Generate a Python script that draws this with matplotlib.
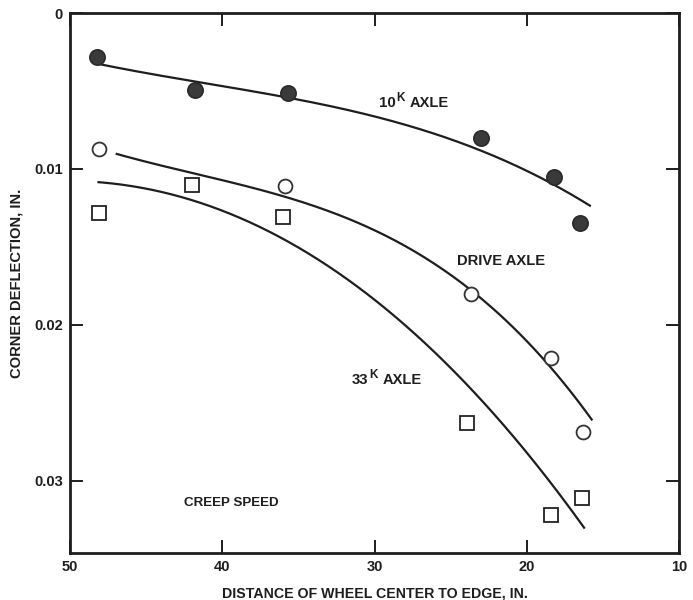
import numpy as np
import matplotlib
matplotlib.use("Agg")
import matplotlib.pyplot as plt

plt.rcParams['font.family'] = ['Liberation Sans', 'DejaVu Sans']
plt.rcParams['font.weight'] = 'bold'

# Measured deflections
dist_10k = [48.2, 41.8, 35.7, 23.0, 18.25, 16.5]
defl_10k = [0.0028, 0.0049, 0.0051, 0.0080, 0.0105, 0.01345]

dist_drive = [48.1, 35.9, 23.7, 18.4, 16.3]
defl_drive = [0.0087, 0.0111, 0.0180, 0.0221, 0.0269]

dist_33k = [48.1, 42.0, 36.0, 23.95, 18.4, 16.35]
defl_33k = [0.0128, 0.0110, 0.0131, 0.0263, 0.0322, 0.0311]

# Points along the drawn trend curves
curve_x_10k = [48.2, 41.9, 35.7, 29.0, 23.1, 18.3, 15.8]
curve_y_10k = [0.00326, 0.00432, 0.00544, 0.00692, 0.00878, 0.0109, 0.01244]

curve_x_drive = [47.0, 35.9, 31.0, 28.9, 24.1, 18.5, 15.7]
curve_y_drive = [0.00904, 0.0116, 0.0136, 0.01456, 0.01757, 0.02226, 0.02637]

curve_x_33k = [48.2, 41.9, 37.5, 34.2, 31.0, 27.0, 23.1, 18.5, 16.2]
curve_y_33k = [0.0109, 0.01186, 0.01372, 0.01565, 0.01777, 0.02078, 0.0247, 0.02996, 0.03317]

x_ticks = [50, 40, 30, 20, 10]
y_ticks = [0, 0.01, 0.02, 0.03]
y_tick_labels = ['0', '0.01', '0.02', '0.03']

ink = '#1e1e1e'

fig = plt.figure(figsize=(6.93, 6.00), dpi=100)
ax = fig.add_axes([0.101, 0.0783, 0.879, 0.8997])


def smooth_curve(xs, ys):
    coef = np.polyfit(xs, ys, 3)
    xx = np.linspace(min(xs), max(xs), 200)
    return xx, np.polyval(coef, xx)


for cx, cy in [(curve_x_10k, curve_y_10k), (curve_x_drive, curve_y_drive),
               (curve_x_33k, curve_y_33k)]:
    xx, yy = smooth_curve(cx, cy)
    ax.plot(xx, yy, color=ink, lw=1.6, solid_capstyle='butt', zorder=2)

ax.plot(dist_10k, defl_10k, 'o', ms=11, color='#3a3a3a', mec='#2a2a2a',
        mew=1.2, zorder=3)
ax.plot(dist_drive, defl_drive, 'o', ms=10, mfc='white', mec='#333333',
        mew=1.3, zorder=3)
ax.plot(dist_33k, defl_33k, 's', ms=10, mfc='white', mec='#222222',
        mew=1.3, zorder=3)

txt = dict(fontweight='bold', color=ink, va='center', ha='left')


def axle_label(x, y, num):
    """Axle label with a raised 'K' after the load figure."""
    ax.annotate(num, (x, y), fontsize=10.8, **txt)
    ax.annotate('K', (x, y), xytext=(17.5, 5), textcoords='offset pixels',
                fontsize=8.5, **txt)
    ax.annotate('AXLE', (x, y), xytext=(31, 0), textcoords='offset pixels',
                fontsize=10.5, **txt)


axle_label(29.7, 0.00576, '10')
axle_label(31.5, 0.02354, '33')
ax.text(24.6, 0.0159, 'DRIVE AXLE', fontsize=10.6, **txt)
ax.text(42.5, 0.03142, 'CREEP SPEED', fontsize=9.6, **txt)

ax.set_xlim(50, 10)
ax.set_ylim(0.03465, 0)
ax.set_xticks(x_ticks)
ax.set_xticklabels([str(v) for v in x_ticks])
ax.set_yticks(y_ticks)
ax.set_yticklabels(y_tick_labels)

ax.tick_params(direction='in', length=9.5, width=1.4, color=ink,
               labelsize=10.5, labelcolor=ink, top=True, right=True, pad=5)
for lab in ax.get_xticklabels() + ax.get_yticklabels():
    lab.set_fontweight('bold')
for sp in ax.spines.values():
    sp.set_linewidth(2)
    sp.set_color(ink)

ax.set_xlabel('DISTANCE OF WHEEL CENTER TO EDGE, IN.', fontsize=10.2,
              fontweight='bold', color=ink, labelpad=9)
ax.set_ylabel('CORNER DEFLECTION, IN.', fontsize=10.6, fontweight='bold',
              color=ink, labelpad=8)

fig.savefig('out.png', dpi=100)
